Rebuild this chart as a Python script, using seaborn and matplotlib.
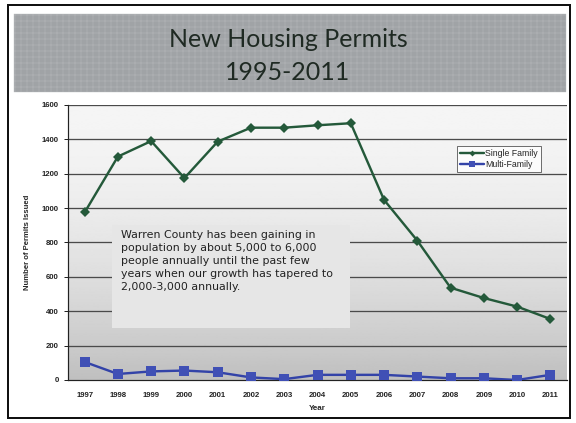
import seaborn as sns
import matplotlib.pyplot as plt
import matplotlib.patches as patches
import pandas as pd
import numpy as np

# data
years = ['1997', '1998', '1999', '2000', '2001', '2002', '2003', '2004',
         '2005', '2006', '2007', '2008', '2009', '2010', '2011']
single_family = [975, 1300, 1390, 1175, 1387, 1468, 1468, 1482,
                 1494, 1048, 811, 537, 477, 427, 355]
multi_family = [105, 35, 50, 55, 45, 15, 5, 30, 30, 30, 20, 10, 10, 0, 30]
y_ticks = [0, 200, 400, 600, 800, 1000, 1200, 1400, 1600]

title_text = 'New Housing Permits\n1995-2011'
note_text = ('Warren County has been gaining in\n'
             'population by about 5,000 to 6,000\n'
             'people annually until the past few\n'
             'years when our growth has tapered to\n'
             '2,000-3,000 annually.')

df = pd.DataFrame({
    'Year': years * 2,
    'Permits': single_family + multi_family,
    'Type': ['Single Family'] * len(years) + ['Multi-Family'] * len(years),
})

sns.set_style("white")
plt.rcParams['font.family'] = ['Liberation Sans', 'DejaVu Sans']
plt.rcParams['hatch.linewidth'] = 0.4

fig = plt.figure(figsize=(8, 5.875), dpi=72)

# outer frame and title band
fig.patches.append(patches.Rectangle((8 / 576, 5 / 423), 562 / 576, 413 / 423,
                                     transform=fig.transFigure, fill=False,
                                     edgecolor='#111111', linewidth=2))
fig.patches.append(patches.Rectangle((14 / 576, 331 / 423), 552 / 576, 78 / 423,
                                     transform=fig.transFigure,
                                     facecolor='#a0a3a6', edgecolor='#bcbec0',
                                     hatch='++', linewidth=0.4))
fig.text(0.5, 1 - 56 / 423, title_text, ha='center', va='center', fontsize=25,
         color='#1f2a23', family=['Lato', 'DejaVu Sans'], linespacing=1.55)

ax = fig.add_axes([68 / 576, 43 / 423, 499 / 576, 275 / 423])

# gradient background of the plot area
shade = np.linspace(0, 1, 256) ** 1.8
grad = 0.96 - 0.21 * shade
ax.imshow(grad.reshape(-1, 1), aspect='auto', cmap='gray', vmin=0, vmax=1,
          extent=(-0.5, 14.5, 0, 1600), origin='upper', zorder=0)

for yv in y_ticks[1:]:
    ax.axhline(yv, color='#4a4a4a', linewidth=1.3, zorder=1)

palette = {'Single Family': '#24593a', 'Multi-Family': '#3343a8'}
markers = {'Single Family': 'D', 'Multi-Family': 's'}
sns.lineplot(data=df, x='Year', y='Permits', hue='Type', style='Type',
             palette=palette, markers=markers, dashes=False, sort=False,
             linewidth=2.4, markersize=7, markeredgewidth=0, ax=ax, zorder=3)
# enlarge squares
for line in ax.get_lines():
    if line.get_marker() == 's':
        line.set_markersize(9.5)
        line.set_markerfacecolor('#4050b5')

ax.set_xlim(-0.5, len(years) - 0.5)
ax.set_ylim(0, 1600)
ax.set_yticks(y_ticks)
ax.tick_params(axis='both', labelsize=7.8, length=3, width=1, colors='#222222',
               direction='out')
ax.set_xticks(np.arange(len(years)))
ax.set_xticklabels(years, fontweight='bold')
ax.set_yticklabels([str(v) for v in y_ticks], fontweight='bold')
ax.set_xticks(np.arange(len(years) + 1) - 0.5, minor=True)
ax.tick_params(axis='x', which='major', length=0, pad=12)
ax.tick_params(axis='x', which='minor', length=4, width=1, direction='out')
ax.tick_params(axis='y', left=True, length=4, pad=5)

for side in ['top', 'right']:
    ax.spines[side].set_visible(False)
for side in ['left', 'bottom']:
    ax.spines[side].set_color('#222222')
    ax.spines[side].set_linewidth(1.2)

ax.set_xlabel('Year', fontsize=8, fontweight='bold', labelpad=6)
ax.set_ylabel('Number of Permits Issued', fontsize=7.8, fontweight='bold',
              labelpad=11)

leg = ax.legend(loc='upper left', bbox_to_anchor=(0.77, 0.868), fontsize=8.8,
                frameon=True, fancybox=False, handlelength=2.8,
                borderpad=0.35, labelspacing=0.3, handletextpad=0.1,
                markerscale=0.6)
leg.get_frame().set_edgecolor('#222222')
leg.get_frame().set_facecolor('white')
leg.get_frame().set_linewidth(0.8)
leg.set_zorder(5)

# annotation box
ax.add_patch(patches.Rectangle((0.088, 0.189), 0.478, 0.375,
                               transform=ax.transAxes, facecolor='#e6e6e6',
                               edgecolor='none', zorder=2))
ax.text(0.106, 0.545, note_text, transform=ax.transAxes, fontsize=11,
        va='top', ha='left', color='#222222', linespacing=1.36,
        family=['DejaVu Sans'], zorder=4)

plt.savefig('out.png', dpi=72)
